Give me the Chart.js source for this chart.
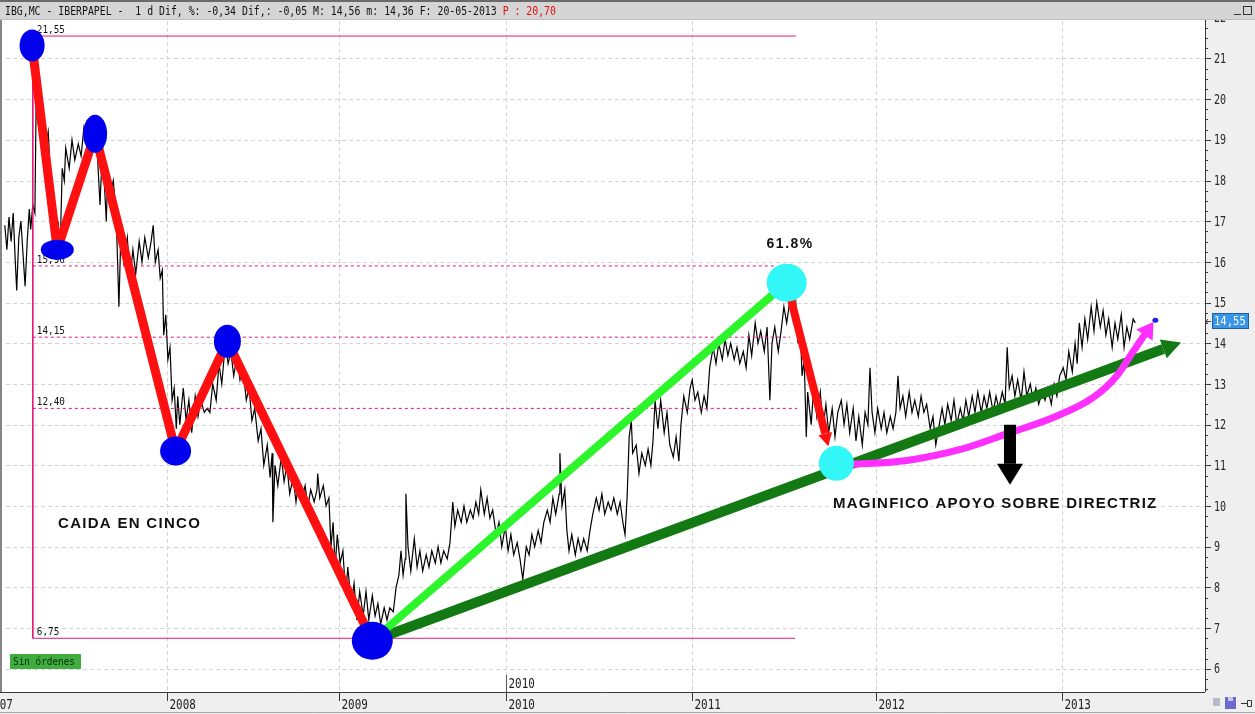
<!DOCTYPE html>
<html>
<head>
<meta charset="utf-8">
<script src="https://cdn.jsdelivr.net/npm/chart.js"></script>
<style>
  html, body { margin: 0; padding: 0; background: #fff; overflow: hidden; }
  canvas { display: block; }
</style>
</head>
<body>
<canvas id="grafico" width="1255" height="714"></canvas>
<script>
// --- datos (sesiones bursátiles en el eje X, euros en el eje Y) ---
const yearStarts = [-26, 236, 481, 720, 986, 1249, 1514];
const yearLabels = ['2007', '2008', '2009', '2010', '2011', '2012', '2013'];
const priceTicks = [6, 7, 8, 9, 10, 11, 12, 13, 14, 15, 16, 17, 18, 19, 20, 21, 22];
const lastPrice = 14.55;
const headerMain = 'IBG,MC - IBERPAPEL -  1 d Dif, %: -0,34 Dif,: -0,05 M: 14,56 m: 14,36 F: 20-05-2013 ';
const headerRed = 'P : 20,70';

// cotización IBG (máximos / mínimos alternos)
const price = [
  [4,16.9],[7,16.3],[10,17.1],[13,16.5],[16,17.2],[19,16.0],[21,15.3],[24,16.6],[27,17.0],[30,16.2],[33,15.4],[36,16.5],[39,17.3],[41,16.8],[44,17.4],
  [47,17.2],[49,20.3],[51,19.4],[54,19.9],[57,19.1],[60,19.6],[63,18.9],[66,19.2],[69,18.2],[71,17.0],[74,17.6],[77,16.4],[80,17.0],[83,16.2],[86,18.3],
  [89,18.0],[91,18.8],[96,18.3],[100,19.0],[104,18.5],[109,18.9],[113,18.6],[117,19.3],[121,18.9],[126,19.4],[130,19.0],[134,19.5],[137,18.4],[140,17.4],
  [143,18.6],[146,18.0],[149,17.0],[151,18.2],[154,17.6],[159,18.0],[163,17.2],[166,15.5],[167,14.9],[170,16.8],[174,16.0],[179,16.6],[183,15.6],[187,16.3],
  [191,15.7],[196,16.5],[200,16.0],[204,16.6],[209,16.1],[213,16.5],[216,16.9],[219,16.0],[223,16.3],[226,15.6],[229,15.8],[231,14.2],[234,14.7],[237,13.6],
  [240,13.9],[243,12.6],[246,12.9],[249,11.9],[251,12.7],[254,12.0],[259,12.9],[263,12.1],[267,12.6],[271,11.8],[276,12.7],[280,12.2],[284,12.6],[289,12.3],
  [293,12.4],[297,12.3],[301,13.0],[306,12.6],[310,13.5],[314,13.0],[319,14.0],[323,13.5],[327,13.8],[331,13.2],[336,13.7],[340,13.1],[344,13.4],[349,12.6],
  [353,12.9],[357,12.1],[361,12.4],[366,11.6],[370,11.9],[374,11.0],[379,11.5],[383,10.7],[386,11.3],[387,9.6],[390,11.0],[394,10.5],[399,11.2],[403,10.6],
  [407,11.0],[411,10.3],[416,10.7],[420,10.1],[424,10.6],[429,10.2],[433,10.5],[437,10.0],[441,10.4],[446,10.1],[450,10.4],[451,10.8],[454,10.2],[459,10.5],
  [463,10.0],[467,10.2],[470,9.0],[473,9.6],[476,8.5],[479,9.3],[483,8.6],[487,8.9],[491,7.8],[494,8.5],[499,7.6],[503,8.1],[507,7.2],[511,7.9],[516,7.3],
  [520,7.9],[524,7.2],[529,7.8],[533,7.3],[537,7.6],[541,7.1],[546,7.5],[550,7.2],[554,7.5],[559,7.4],[563,8.0],[567,8.3],[570,8.9],[573,8.3],[576,8.7],
  [577,10.3],[580,9.0],[584,8.4],[589,9.2],[593,8.5],[597,8.9],[601,8.4],[606,8.8],[610,8.5],[614,8.9],[619,8.6],[623,9.0],[627,8.6],[631,8.9],[636,8.7],
  [640,9.1],[644,10.1],[647,9.5],[651,9.9],[656,9.6],[660,10.0],[664,9.6],[669,9.9],[673,9.7],[677,10.1],[681,9.8],[684,10.4],[689,9.8],[693,10.2],[697,9.7],
  [701,9.9],[706,9.3],[710,9.6],[714,9.0],[719,9.5],[723,8.9],[727,9.3],[731,8.8],[736,9.1],[740,8.7],[744,8.2],[749,9.0],[753,8.8],[757,9.3],[761,9.0],
  [766,9.4],[770,9.1],[774,9.6],[779,9.9],[783,9.6],[787,10.2],[791,9.8],[796,10.3],[797,11.3],[800,10.0],[804,10.4],[807,9.4],[810,8.9],[814,9.3],[819,8.8],
  [823,9.2],[827,8.9],[831,9.2],[836,8.9],[840,9.4],[844,9.8],[849,10.2],[853,9.9],[857,10.3],[861,9.8],[866,10.1],[870,9.9],[874,10.2],[879,9.8],[883,10.1],
  [887,9.6],[890,9.3],[893,10.2],[896,11.7],[899,12.1],[901,11.3],[906,11.5],[910,10.8],[914,11.3],[919,11.0],[923,11.4],[927,11.0],[930,11.6],[933,12.6],
  [937,11.9],[941,12.6],[946,11.8],[950,12.3],[954,11.5],[959,11.2],[963,11.7],[967,11.1],[970,12.0],[974,12.7],[979,12.3],[983,12.9],[986,13.1],[990,12.6],
  [994,12.8],[999,12.3],[1003,12.7],[1007,12.4],[1011,13.4],[1016,13.9],[1020,13.5],[1024,14.0],[1029,13.6],[1033,14.1],[1037,13.7],[1041,14.0],[1046,13.6],
  [1050,13.9],[1054,13.5],[1059,13.8],[1063,13.4],[1067,14.2],[1071,13.7],[1076,14.5],[1080,14.0],[1084,14.3],[1089,13.8],[1093,14.4],[1097,12.6],[1100,14.0],
  [1104,14.4],[1109,13.8],[1113,14.3],[1117,14.9],[1121,14.5],[1126,15.1],[1130,14.6],[1134,15.0],[1137,14.0],[1140,14.5],[1143,13.2],[1146,13.6],[1149,11.7],
  [1151,12.8],[1156,12.0],[1160,13.0],[1164,12.2],[1169,12.8],[1173,11.9],[1177,12.5],[1181,11.8],[1186,12.4],[1190,11.7],[1194,12.3],[1199,12.6],[1203,12.0],
  [1207,12.5],[1211,11.8],[1216,12.4],[1220,11.6],[1224,12.2],[1229,11.5],[1233,12.3],[1237,12.0],[1240,13.4],[1243,12.3],[1247,11.8],[1251,12.4],[1256,11.9],
  [1260,12.3],[1264,11.8],[1269,12.2],[1273,11.9],[1277,12.3],[1280,13.2],[1283,12.4],[1287,12.7],[1291,12.2],[1296,12.8],[1300,12.3],[1304,12.6],[1309,12.2],
  [1313,12.7],[1317,12.3],[1321,12.5],[1326,11.9],[1330,12.2],[1334,11.5],[1339,12.0],[1343,12.4],[1347,12.0],[1351,12.5],[1356,12.1],[1360,12.6],[1364,12.0],
  [1369,12.4],[1373,12.1],[1377,12.6],[1381,12.2],[1386,12.7],[1390,12.3],[1394,12.8],[1399,12.3],[1403,12.7],[1407,12.4],[1411,12.8],[1416,12.3],[1420,12.7],
  [1424,12.4],[1429,12.8],[1433,12.5],[1436,13.9],[1439,12.9],[1443,13.2],[1447,12.7],[1451,13.1],[1456,12.6],[1460,13.3],[1464,12.7],[1469,13.0],[1473,12.6],
  [1477,12.9],[1481,12.5],[1486,12.8],[1490,12.6],[1494,12.9],[1499,12.5],[1503,13.0],[1507,12.7],[1511,13.2],[1516,13.4],[1520,13.1],[1524,13.8],[1529,13.3],
  [1533,14.0],[1536,13.5],[1539,14.5],[1543,13.9],[1547,14.6],[1551,14.1],[1556,14.9],[1560,14.3],[1564,15.0],[1569,14.4],[1573,14.8],[1577,14.2],[1581,14.6],
  [1586,13.9],[1590,14.5],[1594,14.1],[1599,14.7],[1603,13.9],[1607,14.4],[1611,14.1],[1616,14.6],[1619,14.5]
];

// niveles horizontales
const levelValues = [21.55, 15.90, 14.15, 12.40, 6.75];
const levelLabels = ['21,55', '15,90', '14,15', '12,40', '6,75'];
const levelStart = 44;
const levelEnds = [1134, 1104, 1126, 1136, 1133];

// caída en cinco ondas
const caidaX = [43, 79, 133, 248, 322, 529];
const caidaY = [21.32, 16.30, 19.15, 11.35, 14.05, 6.69];
// retroceso 61.8% y apoyo
const retraceX = [1121, 1192];
const retraceY = [15.49, 11.05];
const lightGreen = [[529, 6.69], [1121, 15.49]];
const darkGreen = [[529, 6.69], [1659, 13.86]];
const redDrop = [[1121, 15.49], [1176, 11.78]];
const magentaCurve = [[1209, 11.02], [1293, 11.12], [1369, 11.39], [1436, 11.78], [1501, 12.17], [1559, 12.67], [1593, 13.21], [1616, 13.80], [1632, 14.20]];
const blackArrow = [[1440, 12.0], [1440, 11.04]];

const notes = ['61.8%', 'CAIDA EN CINCO', 'MAGINFICO APOYO SOBRE DIRECTRIZ'];
const notesX = [1126, 80, 1187];
const notesY = [16.43, 9.55, 10.05];

// --- estilo ---
const xMax = 1718.6;
const yMin = 5.43, yMax = 21.92;
const pink = 'rgb(230,22,120)';
const blueSizes = [[12.5, 16], [16.5, 10], [12, 19], [15.5, 14.5], [13.5, 16.5], [20.5, 19]];
const cyanSizes = [[20, 19], [17.5, 17.5]];

const toXY = arr => arr.map(p => ({ x: p[0], y: p[1] }));

function lineSet(data, color, width, order, extra) {
    return Object.assign({
        data: toXY(data),
        borderColor: color,
        borderWidth: width,
        pointRadius: 0,
        fill: false,
        tension: 0,
        order: order
    }, extra || {});
}

const datasets = [];
datasets.push(lineSet(price, '#000000', 1.2, 20));
levelValues.forEach((v, i) => {
    const solid = i === 0 || i === levelValues.length - 1;
    datasets.push(lineSet([[levelStart, v], [levelEnds[i], v]], pink, 1, 15, solid ? {} : { borderDash: [3, 3] }));
});
datasets.push(lineSet([[levelStart, levelValues[0]], [levelStart, levelValues[levelValues.length - 1]]], pink, 1, 15));
datasets.push(lineSet(darkGreen, '#137a13', 10, 8, { borderCapStyle: 'butt' }));
datasets.push(lineSet(lightGreen, '#2cf52c', 8, 7));
datasets.push(lineSet(caidaX.map((x, i) => [x, caidaY[i]]), '#ff1010', 9, 6, { borderJoinStyle: 'round', borderCapStyle: 'round' }));
datasets.push(lineSet(redDrop, '#ff1010', 8, 6, { borderCapStyle: 'butt' }));
datasets.push(lineSet(magentaCurve, '#ff30ff', 7, 5, { cubicInterpolationMode: 'monotone', borderCapStyle: 'round' }));
datasets.push(lineSet(blackArrow, '#000000', 12, 4, { borderCapStyle: 'butt' }));

function pix(chart, p) {
    return [chart.scales.x.getPixelForValue(p[0]), chart.scales.y.getPixelForValue(p[1])];
}

// punta de flecha que empieza en 'to' y avanza 'len' en la dirección from->to
function arrowHead(ctx, from, to, len, half, color) {
    const dx = to[0] - from[0], dy = to[1] - from[1];
    const d = Math.hypot(dx, dy), ux = dx / d, uy = dy / d;
    ctx.fillStyle = color;
    ctx.beginPath();
    ctx.moveTo(to[0] + ux * len, to[1] + uy * len);
    ctx.lineTo(to[0] - uy * half, to[1] + ux * half);
    ctx.lineTo(to[0] + uy * half, to[1] - ux * half);
    ctx.closePath();
    ctx.fill();
}

function texto(ctx, str, x, y, font, color, sx, align, base) {
    ctx.save();
    ctx.font = font;
    ctx.fillStyle = color;
    ctx.textAlign = align || 'left';
    ctx.textBaseline = base || 'alphabetic';
    ctx.translate(x, y);
    ctx.scale(sx, 1);
    ctx.fillText(str, 0, 0);
    ctx.restore();
}

const decor = {
    id: 'decor',
    beforeDraw(chart) {
        const c = chart.ctx;
        c.save();
        c.fillStyle = '#ffffff';
        c.fillRect(0, 0, chart.width, chart.height);
        c.restore();
    },
    beforeDatasetsDraw(chart) {
        const c = chart.ctx, a = chart.chartArea;
        const xs = chart.scales.x, ys = chart.scales.y;
        c.save();
        c.strokeStyle = '#d4d4d4';
        c.lineWidth = 1;
        c.setLineDash([4, 3]);
        priceTicks.forEach(v => {
            const y = Math.round(ys.getPixelForValue(v)) + 0.5;
            if (y < a.top || y > a.bottom) return;
            c.beginPath(); c.moveTo(a.left + 4, y); c.lineTo(a.right, y); c.stroke();
        });
        yearStarts.forEach(s => {
            const x = Math.round(xs.getPixelForValue(s)) + 0.5;
            if (x < a.left) return;
            c.beginPath(); c.moveTo(x, a.top); c.lineTo(x, a.bottom); c.stroke();
        });
        c.restore();
    },
    afterDatasetsDraw(chart) {
        const c = chart.ctx, a = chart.chartArea;
        const xs = chart.scales.x, ys = chart.scales.y;
        c.save();
        // puntas de flecha
        arrowHead(c, pix(chart, darkGreen[0]), pix(chart, darkGreen[1]), 19, 10, '#137a13');
        arrowHead(c, pix(chart, redDrop[0]), pix(chart, redDrop[1]), 13, 7, '#ff1010');
        const mN = magentaCurve.length;
        arrowHead(c, pix(chart, magentaCurve[mN - 2]), pix(chart, magentaCurve[mN - 1]), 16, 10, '#ff30ff');
        const mTip = pix(chart, magentaCurve[mN - 1]);
        c.fillStyle = '#2020e0';
        c.beginPath(); c.ellipse(mTip[0] + 11, mTip[1] - 15, 3, 2.5, 0, 0, Math.PI * 2); c.fill();
        arrowHead(c, pix(chart, blackArrow[0]), pix(chart, blackArrow[1]), 21, 13, '#000000');

        // etiquetas de niveles
        levelValues.forEach((v, i) => {
            texto(c, levelLabels[i], xs.getPixelForValue(levelStart) + 4, ys.getPixelForValue(v) - 3,
                '11px "DejaVu Sans Mono"', '#111', 0.85);
        });

        // marcadores
        c.fillStyle = '#0000ee';
        caidaX.forEach((x, i) => {
            const p = pix(chart, [x, caidaY[i]]);
            c.beginPath(); c.ellipse(p[0], p[1], blueSizes[i][0], blueSizes[i][1], 0, 0, Math.PI * 2); c.fill();
        });
        c.fillStyle = '#33f7f7';
        retraceX.forEach((x, i) => {
            const p = pix(chart, [x, retraceY[i]]);
            c.beginPath(); c.ellipse(p[0], p[1], cyanSizes[i][0], cyanSizes[i][1], 0, 0, Math.PI * 2); c.fill();
        });

        // textos
        c.letterSpacing = '1.5px';
        let p = pix(chart, [notesX[0], notesY[0]]);
        texto(c, notes[0], p[0], p[1], 'bold 14px "Liberation Sans"', '#111', 1, 'center', 'middle');
        c.letterSpacing = '1.3px';
        p = pix(chart, [notesX[1], notesY[1]]);
        texto(c, notes[1], p[0], p[1], 'bold 15px "Liberation Sans"', '#111', 1, 'left', 'middle');
        c.letterSpacing = '1.25px';
        p = pix(chart, [notesX[2], notesY[2]]);
        texto(c, notes[2], p[0], p[1], 'bold 15px "Liberation Sans"', '#111', 1, 'left', 'middle');
        c.letterSpacing = '0px';

        // marca interior 2010
        const x10 = Math.round(xs.getPixelForValue(yearStarts[3])) + 0.5;
        c.strokeStyle = '#555'; c.lineWidth = 1;
        c.beginPath(); c.moveTo(x10, a.bottom - 17); c.lineTo(x10, a.bottom); c.stroke();
        texto(c, yearLabels[3], x10 + 2, a.bottom - 4, '14px "DejaVu Sans Mono"', '#222', 0.78);

        // recuadro "Sin órdenes"
        c.fillStyle = '#3fae3f';
        c.fillRect(10, a.bottom - 38, 71, 15);
        texto(c, 'Sin órdenes', 13, a.bottom - 27, '11px "DejaVu Sans Mono"', '#0c2a0c', 0.85);
        c.restore();
    },
    afterDraw(chart) {
        const c = chart.ctx, a = chart.chartArea;
        const xs = chart.scales.x, ys = chart.scales.y;
        const W = chart.width, H = chart.height;
        c.save();
        // panel derecho (eje de precios)
        c.fillStyle = '#efefef';
        c.fillRect(a.right, 20, W - a.right, a.bottom - 20);
        c.strokeStyle = '#3a3a3a'; c.lineWidth = 1;
        c.beginPath(); c.moveTo(a.right + 0.5, 20); c.lineTo(a.right + 0.5, a.bottom); c.stroke();
        for (let v = 5.5; v <= 22; v += 0.25) {
            const y = Math.round(ys.getPixelForValue(v)) + 0.5;
            if (y < 20 || y > a.bottom) continue;
            const len = Number.isInteger(v) ? 6 : 3;
            c.beginPath(); c.moveTo(a.right, y); c.lineTo(a.right + len, y); c.stroke();
        }
        priceTicks.forEach(v => {
            texto(c, String(v), a.right + 9, ys.getPixelForValue(v) + 1, '14px "DejaVu Sans Mono"', '#2a2a2a', 0.72, 'left', 'middle');
        });
        // precio actual
        const yl = Math.round(ys.getPixelForValue(lastPrice));
        c.fillStyle = '#3a96e6';
        c.fillRect(a.right + 7, yl - 8, 37, 16);
        c.strokeStyle = '#1b5fa8';
        c.strokeRect(a.right + 7.5, yl - 7.5, 36, 15);
        texto(c, String(lastPrice).replace('.', ','), a.right + 9, yl + 1, '12px "DejaVu Sans Mono"', '#ffffff', 0.88, 'left', 'middle');
        c.strokeStyle = '#444';
        c.beginPath();
        c.moveTo(a.right + 1, yl + 0.5); c.lineTo(a.right + 6, yl + 0.5);
        c.moveTo(a.right + 3, yl - 2); c.lineTo(a.right + 1, yl + 0.5); c.lineTo(a.right + 3, yl + 3);
        c.stroke();

        // barra inferior (años)
        c.fillStyle = '#efefef';
        c.fillRect(0, a.bottom, W, H - a.bottom);
        c.strokeStyle = '#3a3a3a';
        c.beginPath(); c.moveTo(0, a.bottom + 0.5); c.lineTo(a.right, a.bottom + 0.5); c.stroke();
        c.strokeStyle = '#a8a8a8';
        c.beginPath(); c.moveTo(0, H - 1.5); c.lineTo(W, H - 1.5); c.stroke();
        yearStarts.forEach((s, i) => {
            const x = Math.round(xs.getPixelForValue(s)) + 0.5;
            c.strokeStyle = '#3a3a3a';
            c.beginPath(); c.moveTo(x, a.bottom); c.lineTo(x, a.bottom + 9); c.stroke();
            texto(c, yearLabels[i], x + 2, a.bottom + 17, '14px "DejaVu Sans Mono"', '#222', 0.78);
        });
        // iconos inferiores
        c.fillStyle = '#b8b8c8'; c.fillRect(a.right + 8, a.bottom + 6, 7, 8);
        c.fillStyle = '#6a6ad0'; c.fillRect(a.right + 20, a.bottom + 5, 11, 12);
        c.fillStyle = '#c8c8f0'; c.fillRect(a.right + 23, a.bottom + 5, 5, 4);
        c.strokeStyle = '#333';
        c.beginPath(); c.moveTo(a.right + 36, a.bottom + 11.5); c.lineTo(a.right + 42, a.bottom + 11.5);
        c.rect(a.right + 42.5, a.bottom + 8.5, 4, 6); c.stroke();

        // borde izquierdo
        c.fillStyle = '#858585';
        c.fillRect(0, 20, 2, a.bottom - 20);

        // cabecera
        c.fillStyle = '#d5d5d5';
        c.fillRect(0, 0, W, 20);
        c.fillStyle = '#6a6a6a';
        c.fillRect(0, 0, W, 2);
        c.fillStyle = '#bdbdbd';
        c.fillRect(0, 19, W, 1);
        c.font = '12px "DejaVu Sans Mono"';
        const wMain = c.measureText(headerMain).width * 0.82;
        texto(c, headerMain, 5, 15, '12px "DejaVu Sans Mono"', '#111', 0.82);
        texto(c, headerRed, 5 + wMain, 15, '12px "DejaVu Sans Mono"', '#e01010', 0.82);
        c.strokeStyle = '#333';
        c.beginPath(); c.moveTo(W - 21, 14.5); c.lineTo(W - 14, 14.5); c.stroke();
        c.strokeRect(W - 11.5, 6.5, 8, 8);
        c.restore();
    }
};

new Chart(document.getElementById('grafico').getContext('2d'), {
    type: 'line',
    data: { datasets: datasets },
    options: {
        responsive: false,
        animation: false,
        devicePixelRatio: 1,
        layout: { padding: { left: 2, top: 21, right: 50, bottom: 22 } },
        plugins: { legend: { display: false }, tooltip: { enabled: false } },
        scales: {
            x: { type: 'linear', min: 0, max: xMax, display: false },
            y: { type: 'linear', min: yMin, max: yMax, display: false }
        }
    },
    plugins: [decor]
});
</script>
</body>
</html>
